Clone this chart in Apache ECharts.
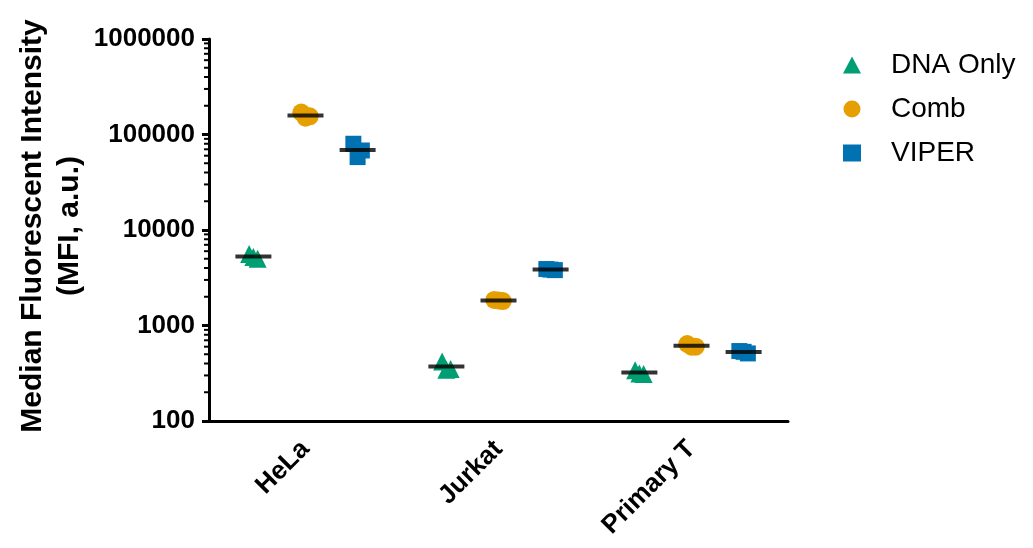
<!DOCTYPE html>
<html><head><meta charset="utf-8">
<script src="https://cdn.jsdelivr.net/npm/echarts@6/dist/echarts.min.js"></script>
<style>html,body{margin:0;padding:0;background:#fff}#c{width:1033px;height:548px}</style>
</head><body><div id="c"></div>
<script>
var categories = ['HeLa', 'Jurkat', 'Primary T'];
var seriesNames = ['DNA Only', 'Comb', 'VIPER'];
// replicate values per category (MFI, a.u.)
var dnaOnly = [[5600, 5000, 5200], [420, 350, 345], [340, 310, 315]];
var comb    = [[170000, 155000, 150000], [1850, 1800, 1830], [640, 600, 600]];
var viper   = [[80000, 68000, 58000], [3900, 3800, 3850], [540, 510, 530]];
var yTickLabels = ['100', '1000', '10000', '100000', '1000000'];
var minorTickValues = [200,300,400,500,600,700,800,900,2000,3000,4000,5000,6000,7000,8000,9000,20000,30000,40000,50000,60000,70000,80000,90000,200000,300000,400000,500000,600000,700000,800000,900000];

var colors = ['#009E73', '#E69F00', '#0072B2'];
var symbols = ['triangle', 'circle', 'rect'];
var sizes = [18, 18, 16];
var groupOffset = [-0.27, 0, 0.27];
var jitter = [-0.022, 0.022, 0.0];
var FONT = '"Liberation Sans", Arial, sans-serif';

var allData = [dnaOnly, comb, viper];
var series = [];
var meanData = [];
allData.forEach(function (arr, si) {
  var pts = [];
  arr.forEach(function (vals, ci) {
    var sum = 0;
    vals.forEach(function (v, k) {
      pts.push([ci + 0.5 + groupOffset[si] + jitter[k], v]);
      sum += v;
    });
    meanData.push([ci + 0.5 + groupOffset[si], sum / vals.length]);
  });
  series.push({
    name: seriesNames[si], type: 'scatter', xAxisIndex: 1, yAxisIndex: 0,
    symbol: symbols[si], symbolSize: sizes[si],
    itemStyle: { color: colors[si], opacity: 1 },
    data: pts, z: 3
  });
});
series.push({
  name: 'mean', type: 'scatter', xAxisIndex: 1, yAxisIndex: 0,
  symbol: 'rect', symbolSize: [36, 4],
  itemStyle: { color: '#000' }, data: meanData, z: 5, silent: true
});
series.push({
  name: 'minor', type: 'custom', xAxisIndex: 1, yAxisIndex: 0, clip: false, silent: true,
  data: minorTickValues.map(function (v) { return [0, v]; }),
  renderItem: function (params, api) {
    var p = api.coord([0, api.value(1)]);
    return { type: 'line', shape: { x1: p[0] - 5, y1: p[1], x2: p[0], y2: p[1] },
      style: { stroke: '#000', lineWidth: 2 } };
  }, z: 4
});

var chart = echarts.init(document.getElementById('c'));
chart.setOption({
  animation: false,
  backgroundColor: '#fff',
  grid: { left: 209, right: 245, top: 39, bottom: 127 },
  legend: {
    orient: 'vertical', left: 838, top: 46, itemGap: 16,
    itemWidth: 18, itemHeight: 17,
    data: seriesNames.map(function (n, i) { return { name: n, icon: symbols[i] }; }),
    textStyle: { fontFamily: FONT, fontSize: 28, color: '#000', padding: [0, 0, 0, 25] }
  },
  xAxis: [{
    type: 'category', data: categories, boundaryGap: true,
    axisLine: { lineStyle: { color: '#000', width: 3 } },
    axisTick: { alignWithLabel: true, length: 10, lineStyle: { width: 3, color: '#000' } },
    axisLabel: { rotate: 45, fontFamily: FONT, fontWeight: 'bold', fontSize: 26, color: '#000', margin: 24 },
    splitLine: { show: false }
  }, {
    type: 'value', min: 0, max: 3, show: false
  }],
  yAxis: [{
    type: 'log', logBase: 10, min: 100, max: 1000000,
    axisLine: { show: true, lineStyle: { color: '#000', width: 3 } },
    axisTick: { show: true, length: 7, lineStyle: { width: 3, color: '#000' } },
    axisLabel: {
      fontFamily: FONT, fontWeight: 'bold', fontSize: 26, color: '#000', margin: 14,
      formatter: function (v) {
        var idx = Math.round(Math.log10(v)) - 2;
        return yTickLabels[idx] !== undefined ? yTickLabels[idx] : '';
      }
    },
    splitLine: { show: false }
  }],
  graphic: [{
    type: 'text', rotation: Math.PI / 2, x: 51, y: 226,
    style: {
      text: 'Median Fluorescent Intensity\n(MFI, a.u.)',
      font: 'bold 30px ' + FONT, fill: '#000',
      textAlign: 'center', textVerticalAlign: 'middle', lineHeight: 37
    }
  }],
  series: series
});
</script></body></html>
